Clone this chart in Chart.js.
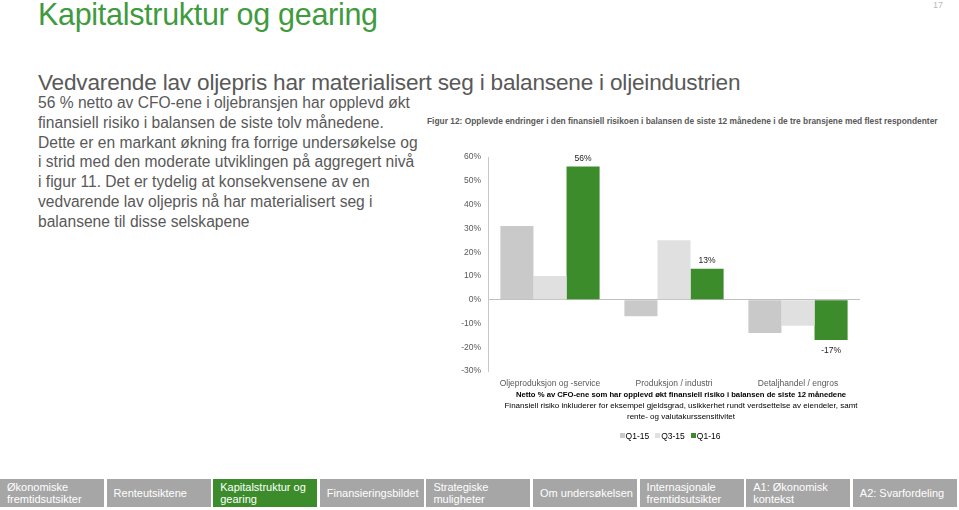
<!DOCTYPE html>
<html lang="no">
<head>
<meta charset="utf-8">
<script src="https://cdn.jsdelivr.net/npm/chart.js@4.4.1/dist/chart.umd.min.js"></script>
<style>
  body { margin: 0; width: 959px; height: 510px; position: relative; background: #fff; font-family: "Liberation Sans", Arial, sans-serif; overflow: hidden; }
  .abs { position: absolute; }
  #title { left: 38px; top: -3px; font-size: 30.5px; color: #3e9b3e; letter-spacing: -0.3px; }
  #pagenr { left: 933px; top: 0px; font-size: 9px; color: #bbb; }
  #subtitle { left: 38px; top: 70px; font-size: 22.6px; color: #595959; letter-spacing: -0.2px; }
  #intro { left: 38px; top: 93px; width: 380px; font-size: 15.6px; line-height: 19.8px; color: #595959; }
  #caption { left: 427px; top: 116px; font-size: 8.4px; font-weight: bold; color: #595959; white-space: nowrap; }
  #chartBox { left: 440px; top: 145px; width: 440px; height: 246px; }
  #notes { left: 481px; top: 390px; width: 400px; text-align: center; font-size: 8.0px; line-height: 10.8px; color: #000; }
  #notes b { font-size: 7.7px; }
  #legend { left: 440px; top: 431px; width: 460px; text-align: center; font-size: 8.5px; color: #000; }
  #legend span.sw { display: inline-block; width: 5px; height: 5px; margin-right: 1px; vertical-align: 1px; }
  #legend span.it { margin: 0 3px; }
  .nav { top: 479px; width: 104px; height: 28px; background: #a6a6a6; color: #fff; font-size: 11px; line-height: 12.5px; box-sizing: border-box; padding-left: 7px; display: flex; align-items: center; }
  .nav.active { background: #3c8c2c; }
</style>
</head>
<body>
<div id="title" class="abs">Kapitalstruktur og gearing</div>
<div id="pagenr" class="abs">17</div>
<div id="subtitle" class="abs">Vedvarende lav oljepris har materialisert seg i balansene i oljeindustrien</div>
<div id="intro" class="abs">56 % netto av CFO-ene i oljebransjen har opplevd økt finansiell risiko i balansen de siste tolv månedene. Dette er en markant økning fra forrige undersøkelse og i strid med den moderate utviklingen på aggregert nivå i figur 11. Det er tydelig at konsekvensene av en vedvarende lav oljepris nå har materialisert seg i balansene til disse selskapene</div>
<div id="caption" class="abs">Figur 12: Opplevde endringer i den finansiell risikoen i balansen de siste 12 månedene i de tre bransjene med flest respondenter</div>
<div id="chartBox" class="abs"><canvas id="riskChart"></canvas></div>
<div id="notes" class="abs"><b>Netto % av CFO-ene som har opplevd økt finansiell risiko i balansen de siste 12 månedene</b><br>Finansiell risiko inkluderer for eksempel gjeldsgrad, usikkerhet rundt verdsettelse av eiendeler, samt<br>rente- og valutakurssensitivitet</div>
<div id="legend" class="abs"></div>
<div id="navbar"></div>

<script>
// Data
const categories = ["Oljeproduksjon og -service", "Produksjon / industri", "Detaljhandel / engros"];
const seriesNames = ["Q1-15", "Q3-15", "Q1-16"];
const q115 = [31, -7, -14];
const q315 = [10, 25, -11];
const q116 = [56, 13, -17];
const yTicks = [-30, -20, -10, 0, 10, 20, 30, 40, 50, 60];

const colors = ["#c9c9c9", "#e0e0e0", "#3c8c2c"];
const navItems = ["Økonomiske fremtidsutsikter", "Renteutsiktene", "Kapitalstruktur og gearing", "Finansieringsbildet", "Strategiske muligheter", "Om undersøkelsen", "Internasjonale fremtidsutsikter", "A1: Økonomisk kontekst", "A2: Svarfordeling"];

// nav bar at the bottom
const navbar = document.getElementById("navbar");
for (let i = 0; i < navItems.length; i++) {
	const box = document.createElement("div");
	box.className = "abs nav" + (i === 2 ? " active" : "");
	box.style.left = (i * 106.6) + "px";
	box.textContent = navItems[i];
	navbar.appendChild(box);
}

// legend
const legend = document.getElementById("legend");
for (let i = 0; i < seriesNames.length; i++) {
	const item = document.createElement("span");
	item.className = "it";
	item.innerHTML = '<span class="sw" style="background:' + colors[i] + '"></span>' + seriesNames[i];
	legend.appendChild(item);
}

// labels on the Q1-16 bars only
const valueLabels = {
	id: "valueLabels",
	afterDatasetsDraw(chart) {
		const ctx = chart.ctx;
		const meta = chart.getDatasetMeta(2);
		ctx.save();
		ctx.font = "8.5px 'Liberation Sans', Arial, sans-serif";
		ctx.fillStyle = "#222";
		ctx.textAlign = "center";
		meta.data.forEach(function (bar, i) {
			const v = q116[i];
			if (v >= 0) {
				ctx.textBaseline = "bottom";
				ctx.fillText(v + "%", bar.x, bar.y - 4);
			} else {
				ctx.textBaseline = "top";
				ctx.fillText(v + "%", bar.x, bar.y + 6);
			}
		});
		ctx.restore();
	}
};

const datasets = [q115, q315, q116].map(function (vals, i) {
	return {
		label: seriesNames[i],
		data: vals,
		backgroundColor: colors[i],
		borderWidth: 0,
		categoryPercentage: 0.8,
		barPercentage: 1.0
	};
});

new Chart(document.getElementById("riskChart"), {
	type: "bar",
	data: { labels: categories, datasets: datasets },
	plugins: [valueLabels],
	options: {
		responsive: true,
		maintainAspectRatio: false,
		animation: false,
		layout: { padding: { top: 11, right: 20, left: 0, bottom: 0 } },
		plugins: {
			legend: { display: false },
			tooltip: { enabled: false }
		},
		scales: {
			x: {
				grid: { display: false },
				border: { display: false },
				ticks: { color: "#595959", font: { size: 8.5, family: "'Liberation Sans', Arial, sans-serif" }, padding: 0, maxRotation: 0 },
				afterFit: function (scale) { scale.height = 20; }
			},
			y: {
				min: -30,
				max: 60,
				afterBuildTicks: function (scale) { scale.ticks = yTicks.map(function (v) { return { value: v }; }); },
				ticks: {
					color: "#595959",
					font: { size: 8.5, family: "'Liberation Sans', Arial, sans-serif" },
					padding: 7,
					callback: function (v) { return v + "%"; }
				},
				grid: {
					drawTicks: false,
					lineWidth: 1,
					color: function (c) { return c.tick && c.tick.value === 0 ? "#bfbfbf" : "rgba(0,0,0,0)"; }
				},
				border: { display: true, color: "#c8c8c8", width: 1 },
				afterFit: function (scale) { scale.width = 48; }
			}
		}
	}
});
</script>
</body>
</html>
